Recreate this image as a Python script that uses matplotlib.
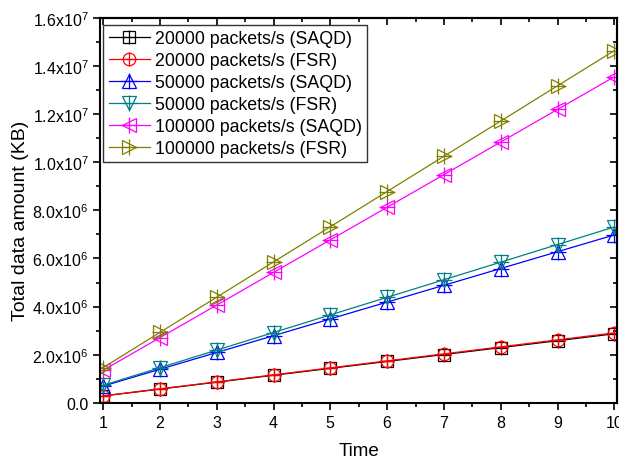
import matplotlib
matplotlib.use("Agg")
import matplotlib.pyplot as plt
from matplotlib.ticker import MultipleLocator, FixedLocator, FuncFormatter

plt.rcParams['font.family'] = ['Liberation Sans', 'DejaVu Sans']
plt.rcParams['mathtext.fontset'] = 'custom'
plt.rcParams['mathtext.rm'] = 'Liberation Sans'
plt.rcParams['mathtext.it'] = 'Liberation Sans:italic'

time = [1, 2, 3, 4, 5, 6, 7, 8, 9, 10]

saqd_20000 = [0.287e6, 0.574e6, 0.861e6, 1.148e6, 1.435e6, 1.722e6, 2.009e6, 2.296e6, 2.583e6, 2.870e6]
fsr_20000 = [0.291e6, 0.582e6, 0.873e6, 1.164e6, 1.455e6, 1.746e6, 2.037e6, 2.328e6, 2.619e6, 2.910e6]
saqd_50000 = [0.698e6, 1.396e6, 2.094e6, 2.792e6, 3.490e6, 4.188e6, 4.886e6, 5.584e6, 6.282e6, 6.980e6]
fsr_50000 = [0.731e6, 1.462e6, 2.193e6, 2.924e6, 3.655e6, 4.386e6, 5.117e6, 5.848e6, 6.579e6, 7.310e6]
saqd_100000 = [1.355e6, 2.710e6, 4.065e6, 5.420e6, 6.775e6, 8.130e6, 9.485e6, 10.840e6, 12.195e6, 13.550e6]
fsr_100000 = [1.464e6, 2.928e6, 4.392e6, 5.856e6, 7.320e6, 8.784e6, 10.248e6, 11.712e6, 13.176e6, 14.640e6]

series = [
    ("20000 packets/s (SAQD)", saqd_20000, "black", "s", 8.5),
    ("20000 packets/s (FSR)", fsr_20000, "red", "o", 9.0),
    ("50000 packets/s (SAQD)", saqd_50000, "blue", "^", 10.0),
    ("50000 packets/s (FSR)", fsr_50000, "#008080", "v", 10.0),
    ("100000 packets/s (SAQD)", saqd_100000, "magenta", "<", 10.0),
    ("100000 packets/s (FSR)", fsr_100000, "#808000", ">", 10.0),
]

y_ticks = [0, 2e6, 4e6, 6e6, 8e6, 1.0e7, 1.2e7, 1.4e7, 1.6e7]


def sci_label(v, pos=None):
    if v == 0:
        return "0.0"
    exp = 0
    m = v
    while abs(m) >= 10:
        m /= 10.0
        exp += 1
    return r"$%.1f\mathrm{x}10^{%d}$" % (m, exp)


fig = plt.figure(figsize=(6.19, 4.60), dpi=100)
ax = fig.add_axes([0.162, 0.122, 0.835, 0.837])

handles = []
for label, vals, color, mk, ms in series:
    ln, = ax.plot(time, vals, color=color, lw=0.9, marker=mk, markersize=ms,
                  markerfacecolor="none", markeredgecolor=color,
                  markeredgewidth=0.9, label=label)
    cr, = ax.plot(time, vals, linestyle="none", marker="+", markersize=ms + 1.5,
                  markeredgecolor=color, markeredgewidth=0.9)
    handles.append((ln, cr))

ax.set_xlim(0.95, 10.05)
ax.set_ylim(0, 1.6e7)
ax.xaxis.set_major_locator(MultipleLocator(1))
ax.xaxis.set_minor_locator(MultipleLocator(0.5))
ax.yaxis.set_major_locator(FixedLocator(y_ticks))
ax.yaxis.set_minor_locator(MultipleLocator(1e6))
ax.yaxis.set_major_formatter(FuncFormatter(sci_label))

for s in ax.spines.values():
    s.set_linewidth(1.5)

ax.tick_params(which="both", direction="out", top=False, right=False, width=1.2)
ax.tick_params(which="major", length=5, labelsize=11.5)
ax.tick_params(which="minor", length=3)

# mirrored inward ticks on the top and right edges
axt = ax.secondary_xaxis("top")
axt.xaxis.set_major_locator(MultipleLocator(1))
axt.xaxis.set_minor_locator(MultipleLocator(0.5))
axt.tick_params(which="both", direction="in", labeltop=False, width=1.2)
axt.tick_params(which="major", length=5)
axt.tick_params(which="minor", length=3)
axt.spines["top"].set_linewidth(1.5)
axr = ax.secondary_yaxis("right")
axr.yaxis.set_major_locator(FixedLocator(y_ticks))
axr.yaxis.set_minor_locator(MultipleLocator(1e6))
axr.tick_params(which="both", direction="in", labelright=False, width=1.2)
axr.tick_params(which="major", length=5)
axr.tick_params(which="minor", length=3)
axr.spines["right"].set_linewidth(1.5)

ax.set_xlabel("Time", fontsize=13.5, labelpad=9)
ax.set_ylabel("Total data amount (KB)", fontsize=14)
ax.yaxis.set_label_coords(-0.137, 0.475)

leg = ax.legend(handles, [s[0] for s in series], loc="upper left",
                fontsize=12.8, frameon=True, fancybox=False, edgecolor="black",
                borderpad=0.3, labelspacing=0.28, handlelength=2.3,
                handletextpad=0.3, borderaxespad=0.0,
                bbox_to_anchor=(0.006, 0.982))
leg.get_frame().set_linewidth(1.0)

fig.savefig("out.png", dpi=100)
